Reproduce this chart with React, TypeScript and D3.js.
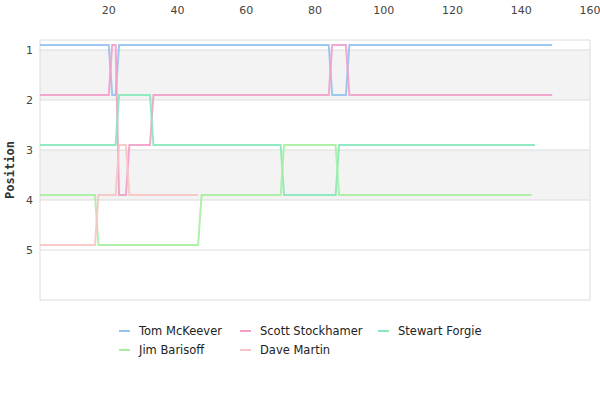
import React from "react";
import * as d3 from "d3";

// stints per driver: [firstLap, lastLap, position]
const drivers = ["Tom McKeever", "Scott Stockhamer", "Stewart Forgie", "Jim Barisoff", "Dave Martin"];
const colors = ["#94c2f1", "#f29fc8", "#86e8bd", "#a6ef9e", "#f7c4c4"];

const tomStints = [[0, 20, 1], [21, 22, 2], [23, 84, 1], [85, 89, 2], [90, 149, 1]];
const scottStints = [[0, 20, 2], [21, 22, 1], [23, 25, 4], [26, 32, 3], [33, 84, 2], [85, 89, 1], [90, 149, 2]];
const stewartStints = [[0, 22, 3], [23, 32, 2], [33, 70, 3], [71, 86, 4], [87, 144, 3]];
const jimStints = [[0, 16, 4], [17, 46, 5], [47, 70, 4], [71, 86, 3], [87, 143, 4]];
const daveStints = [[0, 16, 5], [17, 22, 4], [23, 25, 3], [26, 46, 4]];

const xTicks = [20, 40, 60, 80, 100, 120, 140, 160];
const yTicks = [1, 2, 3, 4, 5];
const bands = [[1, 2], [3, 4]];

export default function App() {
    const width = 600;
    const height = 400;
    const left = 40, right = 590, top = 40, bottom = 300;

    const x = d3.scaleLinear().domain([0, 160]).range([left, right]);
    const y = d3.scaleLinear().domain([0.8, 6]).range([top, bottom]);

    const line = d3.line<number[]>()
        .x(d => x(d[0]))
        .y(d => y(d[1] - 0.1));

    const series = [tomStints, scottStints, stewartStints, jimStints, daveStints].map(stints => {
        const pts: number[][] = [];
        stints.forEach(s => {
            pts.push([s[0], s[2]]);
            pts.push([s[1], s[2]]);
        });
        return pts;
    });

    // legend positions
    const legendCols = [119, 240, 378];
    const legendRows = [331, 350];

    return (
        <svg width={width} height={height} style={{ position: "absolute", left: 0, top: 0 }}
            fontFamily="DejaVu Sans, sans-serif">
            <rect x={0} y={0} width={width} height={height} fill="#fff" />

            {/* Bands */}
            {bands.map((b, i) => (
                <rect key={i} x={left} y={y(b[0])} width={right - left} height={y(b[1]) - y(b[0])} fill="#f3f3f3" />
            ))}

            {/* Grid lines */}
            {yTicks.map(t => (
                <line key={t} x1={left} x2={right} y1={y(t)} y2={y(t)} stroke="#dcdcdc" strokeWidth={1} />
            ))}

            {/* Frame */}
            <line x1={left} x2={right} y1={top} y2={top} stroke="#dcdcdc" />
            <line x1={left} x2={right} y1={bottom} y2={bottom} stroke="#dcdcdc" />
            <line x1={left} x2={left} y1={top} y2={bottom} stroke="#dcdcdc" />
            <line x1={right} x2={right} y1={top} y2={bottom} stroke="#dcdcdc" />

            {/* X tick labels (top) */}
            {xTicks.map(t => (
                <text key={t} x={x(t)} y={14} textAnchor="middle" fontSize={11} fill="#444">{t}</text>
            ))}

            {/* Y tick labels */}
            {yTicks.map(t => (
                <text key={t} x={33} y={y(t) + 4} textAnchor="end" fontSize={11} fill="#444">{t}</text>
            ))}

            <text transform={`translate(14,${(top + bottom) / 2}) rotate(-90)`} textAnchor="middle"
                fontSize={12} fontWeight="bold" fontFamily="DejaVu Sans Mono, monospace" fill="#333">Position</text>

            {/* Lines */}
            {series.map((pts, i) => (
                <path key={drivers[i]} d={line(pts) || ""} fill="none" stroke={colors[i]}
                    strokeWidth={2} strokeOpacity={0.9} />
            ))}

            {/* Legend */}
            {drivers.map((name, i) => {
                const cx = legendCols[i % 3];
                const cy = legendRows[Math.floor(i / 3)];
                return (
                    <g key={name}>
                        <line x1={cx} x2={cx + 11} y1={cy} y2={cy} stroke={colors[i]} strokeWidth={2} />
                        <text x={cx + 20} y={cy + 4} fontSize={11.5} fill="#222">{name}</text>
                    </g>
                );
            })}
        </svg>
    );
}
